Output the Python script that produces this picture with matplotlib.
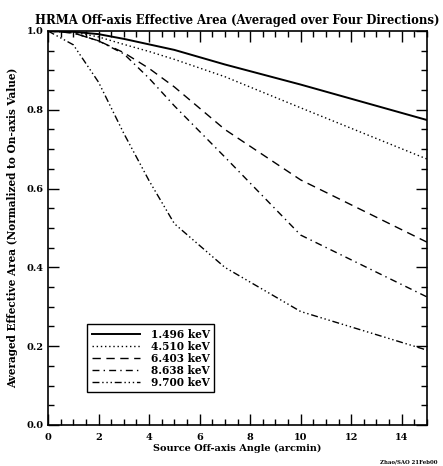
import numpy as np
import matplotlib
matplotlib.use('Agg')
import matplotlib.pyplot as plt
from matplotlib.ticker import MultipleLocator

# off-axis angles (arcmin)
angles = [0, 1, 2, 3, 4, 5, 7, 10, 15]

# normalized effective area per energy
area_1496 = [1.0, 0.998, 0.992, 0.980, 0.966, 0.952, 0.915, 0.864, 0.774]
area_4510 = [1.0, 0.997, 0.985, 0.966, 0.948, 0.928, 0.884, 0.805, 0.675]
area_6403 = [1.0, 0.995, 0.975, 0.945, 0.905, 0.858, 0.750, 0.622, 0.464]
area_8638 = [1.0, 0.995, 0.975, 0.942, 0.880, 0.810, 0.680, 0.482, 0.325]
area_9700 = [1.0, 0.965, 0.870, 0.740, 0.620, 0.511, 0.400, 0.288, 0.190]

labels = ['1.496 keV', '4.510 keV', '6.403 keV', '8.638 keV', '9.700 keV']

font = {'family': 'DejaVu Serif', 'weight': 'bold'}

fig = plt.figure(figsize=(4.43, 4.66), dpi=100)
ax = fig.add_axes([0.1084, 0.088, 0.8555, 0.8455])

ax.plot(angles, area_1496, color='black', lw=1.4, ls='-', label=labels[0])
ax.plot(angles, area_4510, color='black', lw=1.0, ls=(0, (1, 2)), label=labels[1])
ax.plot(angles, area_6403, color='black', lw=1.0, ls=(0, (6, 4)), label=labels[2])
ax.plot(angles, area_8638, color='black', lw=1.0, ls=(0, (5, 3, 1, 3)), label=labels[3])
ax.plot(angles, area_9700, color='black', lw=1.0, ls=(0, (5, 2, 1, 2, 1, 2, 1, 2)), label=labels[4])

ax.set_xlim(0, 15)
ax.set_ylim(0, 1.0)
ax.xaxis.set_major_locator(MultipleLocator(2))
ax.xaxis.set_minor_locator(MultipleLocator(0.5))
ax.yaxis.set_major_locator(MultipleLocator(0.2))
ax.yaxis.set_minor_locator(MultipleLocator(0.05))
ax.tick_params(which='both', direction='in', top=True, right=True, width=1.0)
ax.tick_params(which='major', length=8)
ax.tick_params(which='minor', length=4)
for sp in ax.spines.values():
    sp.set_linewidth(1.2)

ax.set_xticklabels([f'{int(t)}' for t in ax.get_xticks()], fontdict=font, fontsize=7)
ax.set_yticklabels([f'{t:.1f}' for t in ax.get_yticks()], fontdict=font, fontsize=7)
ax.tick_params(axis='x', pad=6)
ax.tick_params(axis='y', pad=3)

ax.set_title('HRMA Off-axis Effective Area (Averaged over Four Directions)',
             fontdict=font, fontsize=8.4, pad=5)
ax.set_xlabel('Source Off-axis Angle (arcmin)', fontdict=font, fontsize=7.0, labelpad=1)
ax.set_ylabel('Averaged Effective Area (Normalized to On-axis Value)',
              fontdict=font, fontsize=7.6, labelpad=6)

leg = ax.legend(loc='lower left', bbox_to_anchor=(0.09, 0.07),
                prop={'family': 'DejaVu Serif', 'weight': 'bold', 'size': 7.6},
                fancybox=False, framealpha=1, edgecolor='black', handlelength=4.6,
                labelspacing=0.1, borderpad=0.4, handletextpad=1.0)
leg.get_frame().set_linewidth(1.0)

fig.text(0.987, 0.003, 'Zhao/SAO 21Feb00', ha='right', va='bottom',
         family='DejaVu Serif', weight='bold', fontsize=3.9)

plt.savefig('out.png', dpi=100)
